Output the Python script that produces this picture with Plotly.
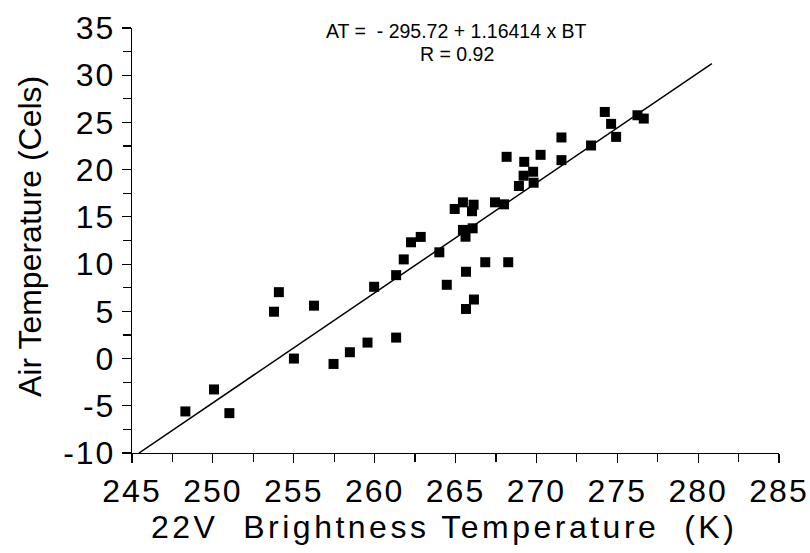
import plotly.graph_objects as go

# Brightness temperature (K) and air temperature (Cels)
bt = [248.30, 250.07, 251.02, 253.78, 254.08, 255.01, 256.25, 257.46, 258.47, 259.56,
      259.97, 261.33, 261.33, 261.80, 262.25, 262.85, 264.00, 264.46, 264.95, 265.46,
      266.12, 266.02, 265.46, 266.06, 265.62, 265.65, 266.84, 268.26, 265.65, 266.14,
      267.44, 268.00, 268.16, 269.25, 270.26, 269.21, 269.80, 269.83, 268.92, 271.55,
      271.55, 273.38, 274.23, 274.62, 274.93, 276.25, 276.64]
at = [-5.60, -3.27, -5.78, 4.96, 7.03, 0.00, 5.60, -0.57, 0.67, 1.69,
      7.60, 2.22, 8.83, 10.50, 12.31, 12.88, 11.25, 7.81, 15.84, 16.54,
      16.29, 15.60, 13.62, 13.79, 12.90, 9.19, 10.20, 10.20, 5.25, 6.25,
      16.54, 16.33, 21.36, 20.83, 21.57, 19.36, 19.78, 18.62, 18.27, 23.41,
      21.01, 22.56, 26.11, 24.85, 23.47, 25.76, 25.41]

# Regression: AT = -295.72 + 1.16414 x BT
intercept = -295.72
slope = 1.16414
fit_bt_range = [245.43, 280.85]
fit_at = [intercept + slope * v for v in fit_bt_range]

x_ticks = [245, 250, 255, 260, 265, 270, 275, 280, 285]
y_ticks = [-10, -5, 0, 5, 10, 15, 20, 25, 30, 35]

x_title = "22V  Brightness Temperature  (K)"
y_title = "Air Temperature (Cels)"
eq_text = "AT =  - 295.72 + 1.16414 x BT"
r_text = "R = 0.92"

FONT = "Liberation Sans, Arial, sans-serif"

fig = go.Figure()
fig.add_trace(go.Scatter(
    x=fit_bt_range, y=fit_at, mode="lines",
    line=dict(color="black", width=1.5), showlegend=False, hoverinfo="skip"))
fig.add_trace(go.Scatter(
    x=bt, y=at, mode="markers",
    marker=dict(symbol="square", size=10, color="black"),
    showlegend=False))

axis_common = dict(
    showgrid=False, zeroline=False, showline=True, linecolor="black", linewidth=1.2,
    ticks="outside", ticklen=9, tickwidth=1.2, tickcolor="black",
    tickfont=dict(family=FONT, size=32, color="black"),
    minor=dict(ticks="outside", ticklen=8, tickwidth=1.2, tickcolor="black", dtick=2.5),
    automargin=False,
)

fig.update_xaxes(range=[245, 285], tickvals=x_ticks,
                 ticktext=[str(v) for v in x_ticks], **axis_common)
fig.update_yaxes(range=[-10, 35], tickvals=y_ticks,
                 ticktext=[str(v) for v in y_ticks], **axis_common)

# axis titles (placed as paper annotations for exact positioning)
fig.add_annotation(x=0.482, y=-0.174, xref="paper", yref="paper", text=x_title,
                   showarrow=False, xanchor="center", yanchor="middle",
                   font=dict(family=FONT, size=32, color="black"))
fig.add_annotation(x=-0.158, y=0.51, xref="paper", yref="paper", text=y_title,
                   showarrow=False, xanchor="center", yanchor="middle", textangle=-90,
                   font=dict(family=FONT, size=32, color="black"))

fig.add_annotation(x=0.502, y=1.0, xref="paper", yref="paper",
                   text=eq_text, showarrow=False,
                   font=dict(family=FONT, size=19.5, color="black"),
                   xanchor="center", yanchor="middle", yshift=-3)
fig.add_annotation(x=0.502, y=1.0, xref="paper", yref="paper",
                   text=r_text, showarrow=False,
                   font=dict(family=FONT, size=19.5, color="black"),
                   xanchor="center", yanchor="middle", yshift=-26)

fig.update_layout(
    width=810, height=553,
    margin=dict(l=132, r=31, t=28, b=100),
    paper_bgcolor="white", plot_bgcolor="white",
    font=dict(family=FONT, color="black"),
)

fig.write_html("out.html", config={"displayModeBar": False, "staticPlot": True})

# remove the default page margin and widen the letter spacing like the original
css = ("<style>html,body{margin:0;padding:0;overflow:hidden;}"
       ".xtick text,.ytick text{letter-spacing:2px;}"
       ".annotation[data-index='0'] text{letter-spacing:3.5px;}</style>")
with open("out.html", "r", encoding="utf-8") as f:
    html = f.read()
html = html.replace("<head>", "<head>" + css, 1)
with open("out.html", "w", encoding="utf-8") as f:
    f.write(html)
